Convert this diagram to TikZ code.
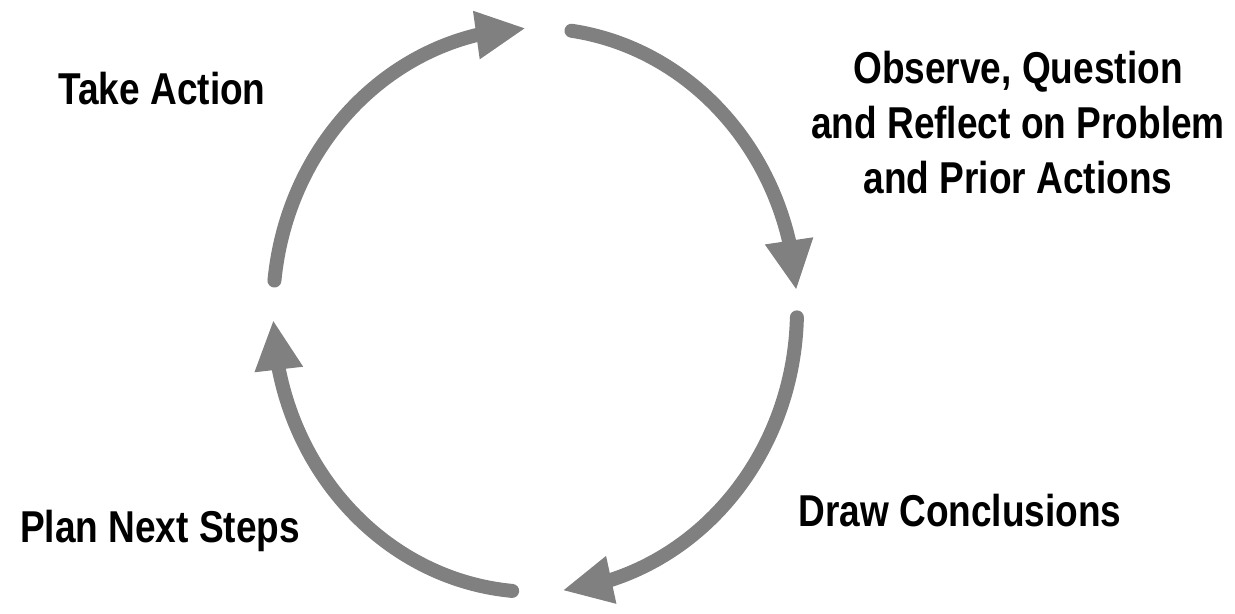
\documentclass[tikz,border=0pt]{standalone}
\usepackage{fontspec}
\setmainfont{Liberation Sans}[FakeStretch=0.83]
\usepackage{xcolor}
\definecolor{cyclegray}{RGB}{128,128,128}
\usetikzlibrary{arrows.meta, bending}

\tikzset{
  cyclearc/.style={cyclegray, line width=0.28cm, line cap=round,
    -{Triangle[length=1cm, width=0.9cm]}},
  stagelabel/.style={font=\fontsize{25.4pt}{31.3pt}\selectfont\bfseries, black, inner sep=0pt}
}

\begin{document}
\begin{tikzpicture}[x=0.02cm, y=0.02cm]
  \useasboundingbox (0,0) rectangle (1235,-614);
  \coordinate (c) at (535,-310);

  % --- The four arcs of the cycle ---
  \draw[cyclearc] (c) ++(174:262 and 282) arc[start angle=174, end angle=92, x radius=262, y radius=282];
  \draw[cyclearc] (c) ++(82:262 and 282) arc[start angle=82, end angle=4, x radius=262, y radius=282];
  \draw[cyclearc] (c) ++(-1.5:262 and 282) arc[start angle=-1.5, end angle=-84, x radius=262, y radius=282];
  \draw[cyclearc] (c) ++(-95:262 and 282) arc[start angle=-95, end angle=-178, x radius=262, y radius=282];

  % --- Stage labels ---
  \node[stagelabel, anchor=base] (take) at (162,-105) {Take Action};
  \node[stagelabel, align=center] (observe) at (1018,-123)
       {Observe, Question\\and Reflect on Problem\\and Prior Actions};
  \node[stagelabel, anchor=base] (conclude) at (960,-527) {Draw Conclusions};
  \node[stagelabel, anchor=base] (plan) at (160,-543) {Plan Next Steps};
\end{tikzpicture}
\end{document}
